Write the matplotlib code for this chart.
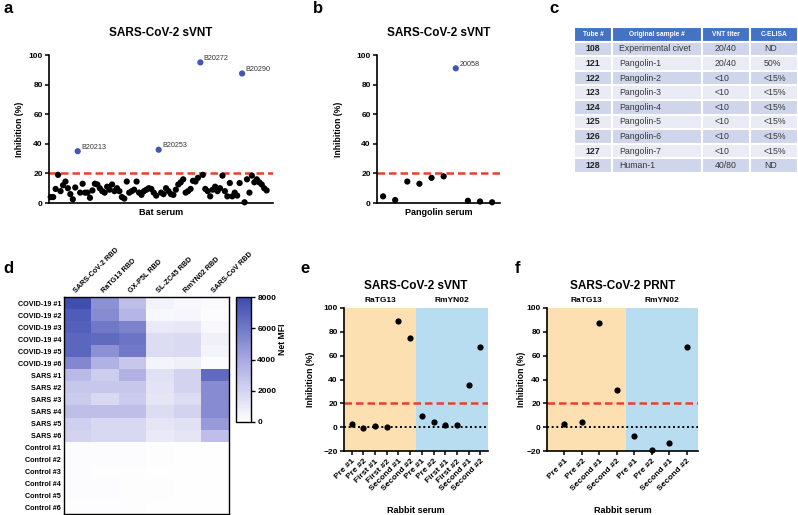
import numpy as np
import matplotlib.pyplot as plt
from matplotlib.colors import LinearSegmentedColormap
from matplotlib.transforms import blended_transform_factory

plt.rcParams['font.family'] = ['Liberation Sans', 'DejaVu Sans']

# ---- data ----
bat_vals = [4, 4, 9.5, 19, 8, 12, 14.5, 10, 6, 2.5, 10.5, 35, 7, 13, 7, 7, 3.5, 8.5,
            13, 12.5, 10, 8, 7, 11, 9, 12.5, 8, 10, 8, 4, 3, 14.5, 7, 8, 9, 14.5, 7,
            5.5, 8, 9, 10, 9.5, 7, 5, 36, 7, 6, 10, 8, 6, 5.5, 9, 12.5, 14, 16, 7, 8,
            9.5, 15, 14.5, 17, 95, 19, 9.5, 8, 4.5, 9, 11, 8, 10, 18.5, 8, 4.5, 13.5,
            4.5, 7, 5, 13.5, 87.5, 0.5, 16, 7, 18.5, 14, 16, 14, 12.5, 10, 8.5]
bat_pos_idx = [11, 44, 61, 78]
bat_pos_names = ['B20213', 'B20253', 'B20272', 'B20290']

pangolin_vals = [4.5, 2, 14.5, 13, 17, 18, 91, 1.5, 1, 0.5]
pangolin_pos_idx = [6]
pangolin_pos_names = ['20058']

cutoff = 20

table_header = ['Tube #', 'Original sample #', 'VNT titer', 'C-ELISA']
tube_ids = ['108', '121', '122', '123', '124', '125', '126', '127', '128']
samples = ['Experimental civet', 'Pangolin-1', 'Pangolin-2', 'Pangolin-3', 'Pangolin-4',
           'Pangolin-5', 'Pangolin-6', 'Pangolin-7', 'Human-1']
vnt_titers = ['20/40', '20/40', '<10', '<10', '<10', '<10', '<10', '<10', '40/80']
c_elisa = ['ND', '50%', '<15%', '<15%', '<15%', '<15%', '<15%', '<15%', 'ND']

rbd_names = ['SARS-CoV-2 RBD', 'RaTG13 RBD', 'GX-P5L RBD', 'SL-ZC45 RBD', 'RmYN02 RBD', 'SARS-CoV RBD']
serum_names = ['COVID-19 #1', 'COVID-19 #2', 'COVID-19 #3', 'COVID-19 #4', 'COVID-19 #5', 'COVID-19 #6',
               'SARS #1', 'SARS #2', 'SARS #3', 'SARS #4', 'SARS #5', 'SARS #6',
               'Control #1', 'Control #2', 'Control #3', 'Control #4', 'Control #5', 'Control #6']
net_mfi = [
    [7800, 5000, 3000, 600, 350, 200],
    [7200, 5200, 3400, 300, 400, 100],
    [7000, 6000, 5600, 1000, 1100, 300],
    [6800, 6600, 6200, 1600, 1700, 700],
    [6800, 5000, 6000, 1600, 1700, 500],
    [5400, 3600, 2600, 500, 700, 100],
    [3200, 2300, 3600, 1400, 2000, 6600],
    [2600, 2600, 2600, 1300, 2000, 5200],
    [2400, 1800, 2400, 1200, 1600, 5200],
    [3000, 3000, 3000, 1600, 2000, 5200],
    [2200, 1800, 1800, 1200, 1400, 4600],
    [2000, 1800, 1800, 1000, 1200, 3000],
    [150, 120, 100, 80, 60, 50],
    [120, 100, 100, 80, 60, 40],
    [100, 90, 80, 60, 50, 40],
    [120, 100, 90, 70, 50, 40],
    [100, 150, 90, 70, 50, 40],
    [90, 80, 70, 60, 50, 40],
]

rabbit_groups = ['RaTG13', 'RmYN02']
svnt_labels = ['Pre #1', 'Pre #2', 'First #1', 'First #2', 'Second #1', 'Second #2']
svnt_ratg13 = [3, -0.5, 1, 0.5, 89.5, 75]
svnt_rmyn02 = [9.5, 4, 2, 2, 35, 67]
prnt_labels = ['Pre #1', 'Pre #2', 'Second #1', 'Second #2']
prnt_ratg13 = [2.5, 4.5, 87.5, 31]
prnt_rmyn02 = [-7.5, -19.5, -13.5, 67.5]

W, H = 798, 515
fig = plt.figure(figsize=(W / 100, H / 100), dpi=100)


def px(l, t, r, b):
    return [l / W, 1 - b / H, (r - l) / W, (b - t) / H]


def style(ax):
    for s in ['top', 'right']:
        ax.spines[s].set_visible(False)
    for s in ['left', 'bottom']:
        ax.spines[s].set_linewidth(1.2)
    ax.tick_params(axis='both', labelsize=6, width=1.1, length=3, pad=1.5)
    for lab in ax.get_yticklabels():
        lab.set_fontweight('bold')


red = '#E8402E'
blue = '#4257B2'


def inhibition_scatter(ax, vals, pos_idx, names, xlabel, xlim):
    x = np.arange(len(vals))
    cols = [blue if i in pos_idx else 'black' for i in x]
    ax.scatter(x, vals, s=20, c=cols, clip_on=False, zorder=3, linewidths=0)
    for i, name in zip(pos_idx, names):
        ax.annotate(name, (x[i], vals[i]), xytext=(2.5, 0.5), textcoords='offset points',
                    fontsize=5.2, color='#333333', ha='left', va='bottom')
    ax.axhline(cutoff, color=red, lw=1.8, ls=(0, (3, 1.6)), zorder=2)
    ax.set_ylim(0, 100)
    ax.set_xlim(*xlim)
    ax.set_yticks([0, 20, 40, 60, 80, 100])
    ax.set_xticks([])
    style(ax)
    ax.set_title('SARS-CoV-2 sVNT', fontsize=8.5, fontweight='bold', pad=13.5)
    ax.set_xlabel(xlabel, fontsize=6.5, fontweight='bold')
    ax.set_ylabel('Inhibition (%)', fontsize=6.2, fontweight='bold')


# ---- a ----
ax_a = fig.add_axes(px(49, 55, 273, 203))
inhibition_scatter(ax_a, bat_vals, bat_pos_idx, bat_pos_names, 'Bat serum',
                   (-0.7, len(bat_vals) + 1.6))
ax_a.xaxis.set_label_coords(0.5, -0.035)
ax_a.yaxis.set_label_coords(-0.112, 0.5)

# ---- b ----
ax_b = fig.add_axes(px(377, 55, 500, 203))
inhibition_scatter(ax_b, pangolin_vals, pangolin_pos_idx, pangolin_pos_names, 'Pangolin serum',
                   (-0.5, len(pangolin_vals) - 0.35))
ax_b.xaxis.set_label_coords(0.5, -0.035)
ax_b.yaxis.set_label_coords(-0.276, 0.5)

# ---- c ----
ax_c = fig.add_axes(px(574, 27, 798, 173))
ax_c.axis('off')
rows = [list(r) for r in zip(tube_ids, samples, vnt_titers, c_elisa)]
row_cols = [['#CFD5EA'] * 4 if i % 2 == 0 else ['#E9EBF5'] * 4 for i in range(len(rows))]
tbl = ax_c.table(cellText=rows, colLabels=table_header, cellColours=row_cols,
                 colColours=['#4472C4'] * 4, colWidths=[38, 90, 48, 48],
                 cellLoc='center', bbox=[0, 0, 1, 1])
tbl.auto_set_font_size(False)
pads = {1: 0.075, 2: 0.27, 3: 0.29}
for (r, c), cell in tbl.get_celld().items():
    cell.set_edgecolor('white')
    cell.set_linewidth(1.5)
    txt = cell.get_text()
    if r == 0:
        txt.set_color('white')
        txt.set_fontweight('bold')
        txt.set_fontsize(4.8)
    else:
        txt.set_fontsize(6.3)
        if c == 0:
            txt.set_fontweight('bold')
            txt.set_color('#222222')
        else:
            txt.set_color('#3a3a3a')
            txt.set_horizontalalignment('left')
            cell._loc = 'left'
            cell.PAD = pads[c]

# ---- d ----
ax_d = fig.add_axes(px(64, 297, 229, 514))
cmap = LinearSegmentedColormap.from_list('mfi', ['#FFFFFF', '#A9A9E2', '#3A4AAE'])
im = ax_d.imshow(np.array(net_mfi), cmap=cmap, vmin=0, vmax=8000, aspect='auto',
                 interpolation='nearest')
ax_d.xaxis.tick_top()
ax_d.set_xticks(range(len(rbd_names)))
ax_d.set_xticklabels(rbd_names, rotation=45, ha='left', rotation_mode='anchor',
                     fontsize=5.2, fontweight='bold')
ax_d.set_yticks(range(len(serum_names)))
ax_d.set_yticklabels(serum_names, fontsize=5.2, fontweight='bold')
ax_d.tick_params(length=0, pad=2)
for s in ax_d.spines.values():
    s.set_linewidth(1.0)
cax = fig.add_axes(px(236, 297, 251, 422))
cb = fig.colorbar(im, cax=cax, ticks=[0, 2000, 4000, 6000, 8000])
cb.outline.set_linewidth(1.0)
cax.tick_params(labelsize=6, width=1, length=3, pad=1.5)
for lab in cax.get_yticklabels():
    lab.set_fontweight('bold')
cb.set_label('Net MFI', fontsize=6.2, fontweight='bold')
cax.yaxis.set_label_coords(2.78, 0.66)


# ---- e, f ----
def rabbit_panel(ax, labels, g1, g2, title, ylab_x):
    x_labels = labels + labels
    vals = g1 + g2
    x = np.arange(len(vals))
    n1 = len(g1)
    left = -1.0 if len(labels) == 4 else -0.65
    right = len(vals) - 1 + 0.65
    ax.set_xlim(left, right)
    ax.axvspan(left, n1 - 0.5, color='#FCE0B2', lw=0, zorder=0)
    ax.axvspan(n1 - 0.5, right, color='#B8DDF0', lw=0, zorder=0)
    ax.axhline(0, color='black', lw=1.4, ls=(0, (1, 1.4)), zorder=2)
    ax.axhline(cutoff, color=red, lw=1.8, ls=(0, (3, 1.6)), zorder=2)
    ax.scatter(x, vals, s=20, c='black', clip_on=False, zorder=3, linewidths=0)
    ax.set_ylim(-20, 100)
    ax.set_yticks([-20, 0, 20, 40, 60, 80, 100])
    ax.set_xticks(x)
    ax.set_xticklabels(x_labels, rotation=45, ha='right', rotation_mode='anchor',
                       fontsize=5.6, fontweight='bold')
    style(ax)
    ax.tick_params(axis='x', pad=2)
    tr = blended_transform_factory(ax.transData, ax.transAxes)
    ax.text((left + n1 - 0.5) / 2, 1.03, rabbit_groups[0], transform=tr, ha='center',
            va='bottom', fontsize=6, fontweight='bold')
    ax.text((n1 - 0.5 + right) / 2, 1.03, rabbit_groups[1], transform=tr, ha='center',
            va='bottom', fontsize=6, fontweight='bold')
    ax.set_title(title, fontsize=8.5, fontweight='bold', pad=14)
    ax.set_ylabel('Inhibition (%)', fontsize=6.2, fontweight='bold')
    ax.yaxis.set_label_coords(ylab_x, 0.5)
    ax.set_xlabel('Rabbit serum', fontsize=6.5, fontweight='bold')
    ax.xaxis.set_label_coords(0.5, -0.385)


ax_e = fig.add_axes(px(344, 308, 488, 451))
rabbit_panel(ax_e, svnt_labels, svnt_ratg13, svnt_rmyn02, 'SARS-CoV-2 sVNT', -0.2)
ax_f = fig.add_axes(px(547, 308, 698, 451))
rabbit_panel(ax_f, prnt_labels, prnt_ratg13, prnt_rmyn02, 'SARS-CoV-2 PRNT', -0.139)

# panel letters
for letter, x, y in [('a', 3, 13), ('b', 313, 13), ('c', 549, 13),
                     ('d', 3, 273), ('e', 300, 273), ('f', 515, 273)]:
    fig.text(x / W, 1 - y / H, letter, fontsize=12, fontweight='bold', va='baseline')

fig.savefig('out.png', dpi=100)
